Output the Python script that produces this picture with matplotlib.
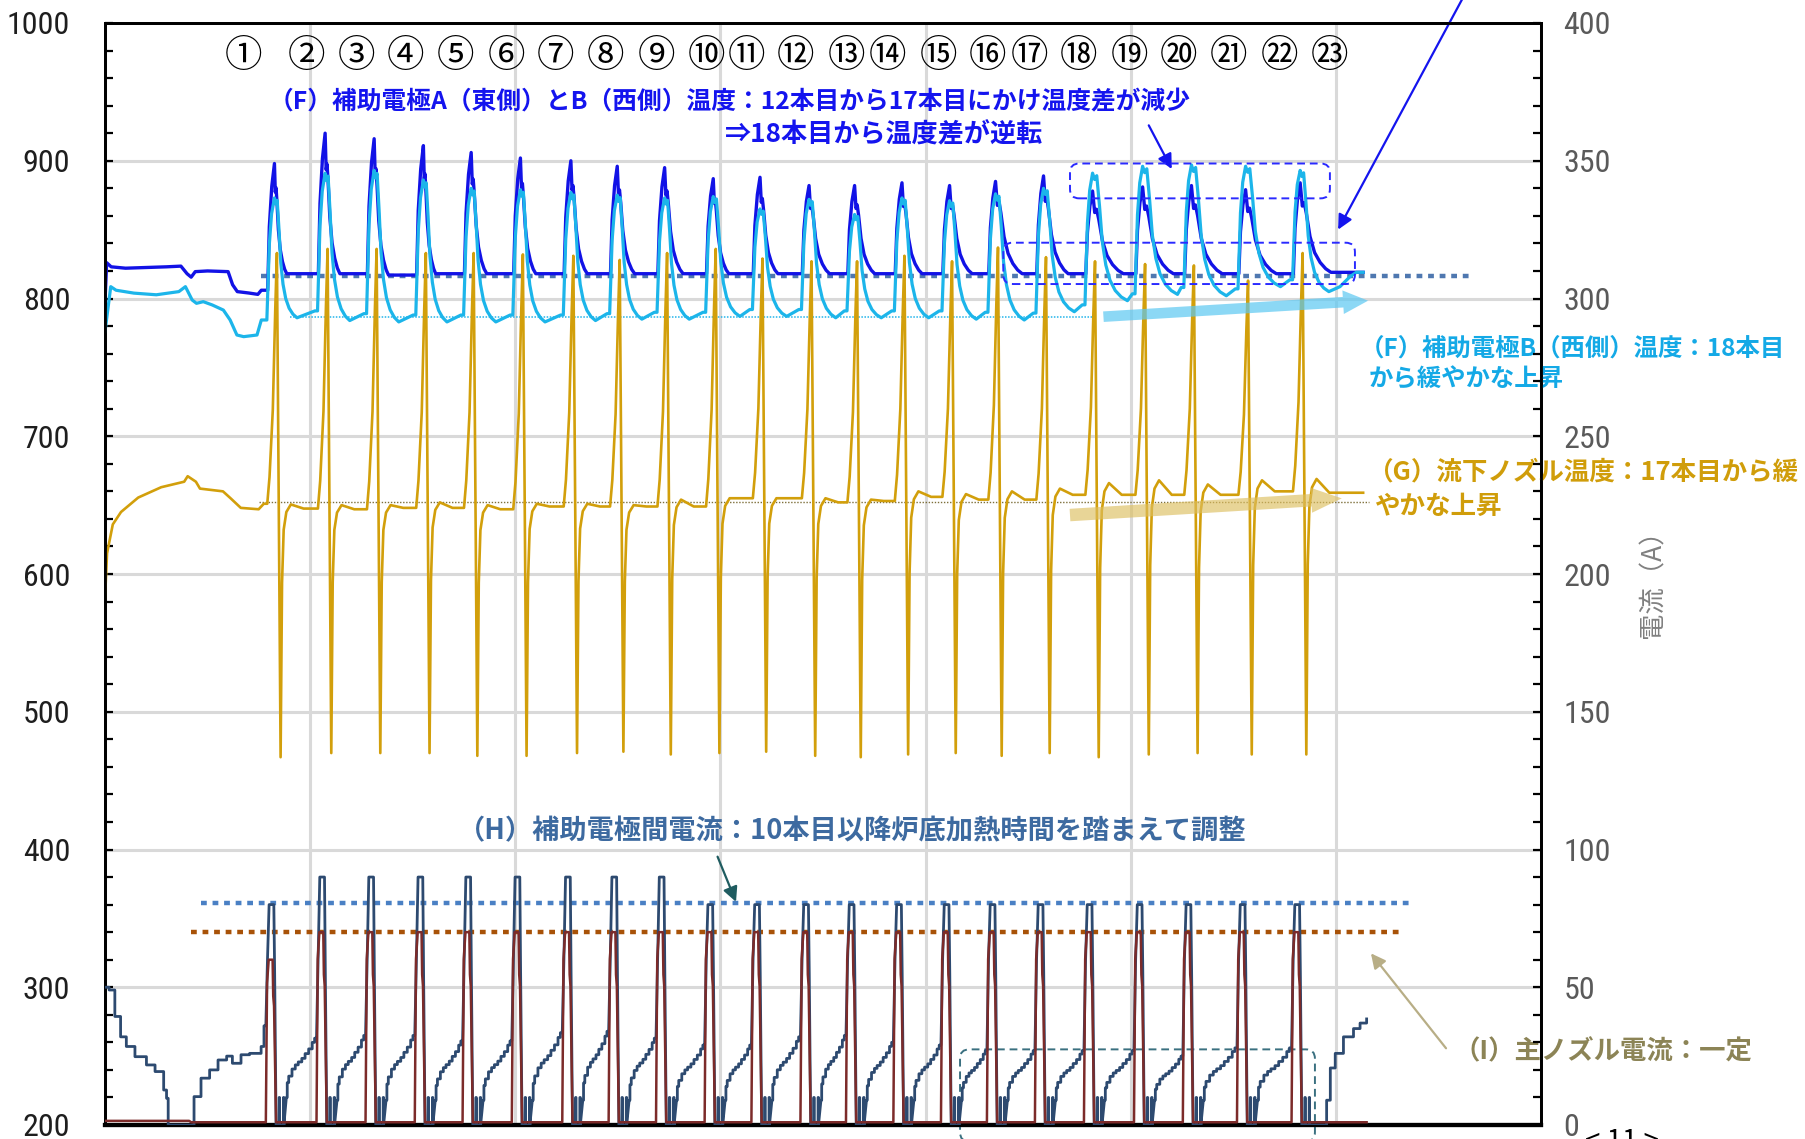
import matplotlib.pyplot as plt
import numpy as np
from matplotlib import font_manager as fm
from matplotlib.patches import FancyBboxPatch
from matplotlib.ticker import MultipleLocator

plt.rcParams['font.family'] = ['Noto Sans CJK JP', 'DejaVu Sans']
_names = {f.name for f in fm.fontManager.ttflist}
if 'Liberation Sans Narrow' in _names:
    NUM_FONT, NUM_SIZE = 'Liberation Sans Narrow', 25
elif 'Roboto Condensed' in _names:
    NUM_FONT, NUM_SIZE = 'Roboto Condensed', 23
else:
    NUM_FONT, NUM_SIZE = 'Liberation Sans', 21

# ---------------- data ----------------
# x: elapsed time, one vertical grid step = 1
# time of the nozzle-temperature spike of each of the 22 pours
t_cyc = [0.838, 1.085, 1.324, 1.564, 1.797, 2.037, 2.283, 2.509, 2.740, 2.977, 3.205,
         3.444, 3.666, 3.897, 4.129, 4.353, 4.587, 4.826, 5.070, 5.308, 5.572, 5.838]

# (F) auxiliary electrode A (east) temperature
a_peak = [898, 920, 916, 911, 906, 902, 900, 896, 895, 887, 888,
          882, 882, 884, 882, 885, 889, 878, 881, 882, 879, 884]
a_base = [818, 818, 817, 818, 818, 818, 818, 818, 818, 818, 818,
          818, 818, 818, 818, 818, 818, 818, 818, 818, 818, 819]
a_fall = [0.06, 0.072, 0.07, 0.06, 0.076, 0.075, 0.08, 0.085, 0.09, 0.076, 0.087,
          0.10, 0.098, 0.098, 0.11, 0.13, 0.12, 0.15, 0.15, 0.15, 0.15, 0.15]
a0_x = [0.0, 0.008, 0.03, 0.1, 0.2, 0.3, 0.37, 0.40, 0.42, 0.44, 0.5, 0.6, 0.622, 0.645, 0.70, 0.745, 0.762]
a0_y = [798, 826, 823, 822, 822.5, 823, 823.5, 818, 815.5, 819.5, 820, 819.5, 810, 805, 804, 803, 806]
a_end_x = [6.05, 6.133]
a_end_y = [819, 819]

# (F) auxiliary electrode B (west) temperature
b_peak = [873, 891, 893, 886, 880, 879, 877, 875, 873, 874, 865,
          872, 861, 873, 871, 876, 880, 891, 896, 897, 896, 893]
b_low = [786, 784, 783, 783, 783, 783, 784, 785, 785, 787, 787,
         786, 786, 786, 785, 784.4, 790.4, 798.4, 803, 802, 808.6, 805]
b_fall = [0.11, 0.12, 0.12, 0.115, 0.12, 0.12, 0.12, 0.12, 0.12, 0.13, 0.13,
          0.13, 0.13, 0.13, 0.13, 0.14, 0.15, 0.17, 0.17, 0.17, 0.17, 0.14]
b0_x = [0.0, 0.028, 0.054, 0.141, 0.25, 0.36, 0.392, 0.425, 0.446, 0.479, 0.523, 0.577,
        0.61, 0.643, 0.676, 0.741, 0.762]
b0_y = [776, 808.6, 806, 803.9, 802.7, 805, 808.6, 798.9, 796.5, 797.7, 795.3, 791.6,
        784.4, 773.5, 772.3, 773.5, 784.4]
b_end_x = [6.02, 6.07, 6.10, 6.133]
b_end_y = [808.6, 816, 819, 819]

# (G) flow-down nozzle temperature
g_top = [833, 836, 836, 833, 833, 832, 831, 828, 833, 836, 829,
         827, 827, 831, 827, 837, 830, 827, 825, 824, 813, 833]
g_min = [467, 470, 470, 470, 468, 468, 470, 471, 469, 470, 471,
         468, 467, 469, 470, 468, 470, 467, 469, 470, 469, 469]
g_bump = [650.5, 650, 650, 652, 650, 651, 651, 650, 654, 655, 655,
          655, 654, 660, 658, 660, 662, 666, 668, 665, 668, 669]
g_flat = [647.5, 647, 648, 648, 647, 649, 649, 649, 649, 655, 655,
          652, 653, 656, 654, 654, 657.5, 657.5, 657.5, 657.5, 660, 659]
g0_x = [0.0, 0.010, 0.038, 0.078, 0.162, 0.274, 0.386, 0.403, 0.443, 0.463, 0.575, 0.612, 0.662, 0.749, 0.774]
g0_y = [582, 615, 636, 645, 655.5, 663, 667, 671, 667, 662, 660, 655, 648, 647, 651]
g_end_x = [6.133]
g_end_y = [659]

# (H) current between auxiliary electrodes [A]
h_top = [80, 90, 90, 90, 90, 90, 90, 90, 90, 80, 80,
         80, 80, 80, 80, 80, 80, 80, 80, 80, 80, 80]
h_end = [36, 31.5, 32.5, 32.5, 30.5, 30.5, 33.5, 34, 31.5, 29, 29,
         32, 32.5, 30, 29, 27, 27, 27, 27, 25, 28, 28]
h_start = [10, 9, 9, 9, 9, 9, 9, 9, 9, 9, 9,
           9, 9, 9, 9, 9, 9, 9, 9, 9, 9, 9]
h_spike = 10
h0_x = [0.0, 0.02, 0.048, 0.076, 0.104, 0.146, 0.202, 0.244, 0.286, 0.30, 0.308, 0.426, 0.434,
        0.468, 0.51, 0.551, 0.593, 0.621, 0.663, 0.705, 0.761, 0.775]
h0_y = [50, 49, 39.4, 32, 28.5, 24.8, 21.8, 19.4, 12.7, 9.7, 0, 0, 10.3,
        17, 20, 23.6, 25, 22.4, 25.5, 26, 28.5, 36]
h_end_x = [5.955, 5.955, 5.973, 5.997, 6.037, 6.086, 6.118, 6.15]
h_end_y = [0, 9, 20.7, 26, 32, 35, 37, 38.5]

# (I) main nozzle current [A]
i_top = [60, 70, 70, 70, 70, 70, 70, 70, 70, 70, 70,
         70, 70, 70, 70, 70, 70, 70, 70, 70, 70, 70]
i0_x = [0.0, 0.41, 0.42]
i0_y = [1.5, 1.5, 1.0]
i_idle = 1.0

# reference levels drawn on the chart
ref_a, ref_b, ref_g = 816.6, 786.5, 652
ref_h, ref_i = 80.5, 70

labels = ['①', '②', '③', '④', '⑤', '⑥', '⑦', '⑧', '⑨', '⑩', '⑪', '⑫',
          '⑬', '⑭', '⑮', '⑯', '⑰', '⑱', '⑲', '⑳', '㉑', '㉒', '㉓']
label_x = [0.675, 0.980, 1.224, 1.464, 1.710, 1.956, 2.195, 2.439, 2.686, 2.933, 3.129, 3.368,
           3.614, 3.814, 4.064, 4.304, 4.507, 4.746, 4.994, 5.235, 5.479, 5.723, 5.969]

# ---------------- waveform shapes ----------------
A_RISE = [(-0.045, 0.0), (-0.037, 0.5), (-0.025, 0.82)]
A_FALL = [(0, 1), (0.07, 0.74), (0.13, 0.78), (0.2, 0.66), (0.32, 0.4), (0.47, 0.22),
          (0.65, 0.11), (0.83, 0.04), (1, 0)]
B_RISE = [(-0.049, 0.0), (-0.037, 0.62), (-0.026, 0.87)]
B_FALL = [(0, 1), (0.06, 0.95), (0.12, 0.98), (0.2, 0.74), (0.28, 0.46), (0.38, 0.28),
          (0.5, 0.16), (0.65, 0.08), (0.82, 0.03), (1, 0)]
G_RISE = [(-0.047, 0.0), (-0.036, 0.107), (-0.020, 0.375), (-0.008, 0.777), (0.0, 1.0)]
G_BACK = [(0.025, 0.69), (0.033, 0.90), (0.046, 0.97)]
RAMP = [(0, 0), (0.03, 0.25), (0.08, 0.36), (0.19, 0.48), (0.3, 0.55), (0.4, 0.6),
        (0.52, 0.66), (0.63, 0.74), (0.75, 0.82), (0.87, 0.93), (0.95, 1.0)]


def to_steps(xs, ys):
    sx, sy = [xs[0]], [ys[0]]
    for x, y in zip(xs[1:], ys[1:]):
        sx += [x, x]
        sy += [sy[-1], y]
    return sx, sy


def stairs(xs, ys, x0, x1, v0, v1):
    for k, (u, f) in enumerate(RAMP):
        x = x0 + u * (x1 - x0)
        if k > 0:
            xs.append(x); ys.append(ys[-1])
        xs.append(x); ys.append(v0 + f * (v1 - v0))


n = len(t_cyc)

a_x, a_y = list(a0_x), list(a0_y)
for i, t in enumerate(t_cyc):
    pre = a_y[-1]
    for dt, f in A_RISE:
        a_x.append(t + dt); a_y.append(pre + f * (a_peak[i] - pre))
    tp = t - 0.012
    for u, f in A_FALL:
        a_x.append(tp + u * a_fall[i]); a_y.append(a_base[i] + f * (a_peak[i] - a_base[i]))
a_x += a_end_x; a_y += a_end_y

b_x, b_y = list(b0_x), list(b0_y)
for i, t in enumerate(t_cyc):
    pre = b_y[-1]
    for dt, f in B_RISE:
        b_x.append(t + dt); b_y.append(pre + f * (b_peak[i] - pre))
    tp = t - 0.012
    for u, f in B_FALL:
        b_x.append(tp + u * b_fall[i]); b_y.append(b_low[i] + f * (b_peak[i] - b_low[i]))
    if i + 1 < n:
        b_x.append(t_cyc[i + 1] - 0.062); b_y.append(b_low[i] + 5)
b_x += b_end_x; b_y += b_end_y

g_x, g_y = list(g0_x), list(g0_y)
for i, t in enumerate(t_cyc):
    pre = g_y[-1]
    for dt, f in G_RISE:
        g_x.append(t + dt); g_y.append(pre + f * (g_top[i] - pre))
    g_x.append(t + 0.018); g_y.append(g_min[i])
    for dt, f in G_BACK:
        g_x.append(t + dt); g_y.append(g_min[i] + f * (g_bump[i] - g_min[i]))
    g_x += [t + 0.068, t + 0.13]
    g_y += [g_bump[i], g_flat[i]]
g_x += g_end_x; g_y += g_end_y

h_x, h_y = to_steps(h0_x, h0_y)
for i, t in enumerate(t_cyc):
    c = t - 0.026
    h_x += [c - 0.028, c - 0.02, c - 0.012, c + 0.011, c + 0.015, c + 0.022]
    h_y += [h_end[i], 60, h_top[i], h_top[i], 55, 0]
    for s in (0.037, 0.058):
        h_x += [c + s, c + s, c + s + 0.002, c + s + 0.002]
        h_y += [0, h_spike, h_spike, 0]
    if i + 1 < n:
        stairs(h_x, h_y, c + 0.072, t_cyc[i + 1] - 0.026 - 0.03, h_start[i], h_end[i + 1])
tx, ty = to_steps(h_end_x, h_end_y)
h_x += tx; h_y += ty

i_x, i_y = list(i0_x), list(i0_y)
for i, t in enumerate(t_cyc):
    c = t - 0.026
    top = i_top[i]
    i_x += [c - 0.028, c - 0.022, c - 0.014, c + 0.005, c + 0.008, c + 0.012, c + 0.022]
    i_y += [i_idle, 0.86 * top, top, top, 0.78 * top, 0.72 * top, i_idle]
i_x.append(6.15); i_y.append(i_idle)

# ---------------- figure ----------------
W, H = 1806, 1139
fig = plt.figure(figsize=(W / 100, H / 100), dpi=100)
ax = fig.add_axes([105 / W, 14 / H, 1436 / W, 1102 / H])
ax2 = ax.twinx()

ax.set_xlim(0, 7)
ax.set_ylim(200, 1000)
ax2.set_ylim(0, 400)
ax.set_xticks(range(8))
ax.tick_params(axis='x', length=0, labelbottom=False)
ax.set_yticks(range(200, 1001, 100))
ax.yaxis.set_minor_locator(MultipleLocator(20))
ax2.set_yticks(range(0, 401, 50))
ax2.yaxis.set_minor_locator(MultipleLocator(10))
ax.grid(True, which='major', color='#d9d9d9', lw=2.2)
ax.set_axisbelow(True)

ax.tick_params(axis='y', which='both', direction='in', length=6, width=1.6,
               pad=25, labelsize=NUM_SIZE, labelcolor='#1e1e1e')
ax2.tick_params(axis='y', which='both', direction='in', length=6, width=1.6,
                pad=16, labelsize=NUM_SIZE, labelcolor='#5a5a5a')
for lbl in ax.get_yticklabels() + ax2.get_yticklabels():
    lbl.set_fontfamily(NUM_FONT)

for a in (ax, ax2):
    for s in a.spines.values():
        s.set_color('black')
        s.set_linewidth(2)
    a.spines['bottom'].set_linewidth(3)

# reference dotted lines
ax.plot([0.76, 6.66], [ref_a, ref_a], color='#4f78b0', lw=3.2, ls=(0, (1.3, 1.3)), zorder=2)
ax.plot([0.90, 4.83], [ref_b, ref_b], color='#22b4ea', lw=1.1, ls=(0, (1, 1)), zorder=2)
ax.plot([0.75, 6.16], [ref_g, ref_g], color='#7d6f3a', lw=1.0, ls=(0, (1, 1.2)), zorder=2)
ax2.plot([0.47, 6.37], [ref_h, ref_h], color='#4a80c4', lw=3.2, ls=(0, (1.3, 1.3)), zorder=2)
ax2.plot([0.42, 6.32], [ref_i, ref_i], color='#a85208', lw=3.2, ls=(0, (1.3, 1.3)), zorder=2)

# series
ax.plot(a_x, a_y, color='#1212e6', lw=2.4, zorder=3)
ax.plot(b_x, b_y, color='#1cb5ea', lw=2.3, zorder=4)
ax.plot(g_x, g_y, color='#d29f0b', lw=1.9, zorder=5)
ax2.plot(h_x, h_y, color='#2d4a70', lw=2.0, zorder=3)
ax2.plot(i_x, i_y, color='#7c2b2a', lw=1.8, zorder=4)

# circled pour numbers
for lab, x in zip(labels, label_x):
    ax.text(x, 976, lab, ha='center', va='center', fontsize=27,
            family=['Noto Sans CJK JP', 'DejaVu Sans'], color='black')

jp = dict(family=['Noto Sans CJK JP', 'DejaVu Sans'], weight='bold', va='center', ha='left',
          clip_on=False)
blue = '#1414ee'
ax.text(0.80, 943, '（F）補助電極A（東側）とB（西側）温度：12本目から17本目にかけ温度差が減少',
        color=blue, fontsize=17.8, **jp)
ax.text(3.02, 919, '⇒18本目から温度差が逆転', color=blue, fontsize=18.8, **jp)
ax.text(6.115, 764, '（F）補助電極B（西側）温度：18本目', color='#14a9e6', fontsize=17.6, **jp)
ax.text(6.158, 741, 'から緩やかな上昇', color='#14a9e6', fontsize=17.6, **jp)
ax.text(6.15, 674, '（G）流下ノズル温度：17本目から緩', color='#d09d0a', fontsize=18.4, **jp)
ax.text(6.187, 649, 'やかな上昇', color='#d09d0a', fontsize=18.4, **jp)
ax.text(1.72, 413, '（H）補助電極間電流：10本目以降炉底加熱時間を踏まえて調整',
        color='#3d6aa0', fontsize=19.6, **jp)
ax.text(6.575, 253, '（I）主ノズル電流：一定', color='#8c8456', fontsize=19, **jp)
ax.text(7.546, 598, '電流（A）', rotation=90, ha='center', va='center', fontsize=19,
        color='#808080', family=['Noto Sans CJK JP', 'DejaVu Sans'], clip_on=False)

# arrows
def arrow(x0, y0, x1, y1, color, lw=1.6, ms=22):
    ax.annotate('', xy=(x1, y1), xytext=(x0, y0), annotation_clip=False,
                arrowprops=dict(arrowstyle='-|>', color=color, lw=lw, mutation_scale=ms,
                                shrinkA=0, shrinkB=0), zorder=6)

arrow(5.088, 925.7, 5.20, 894, blue)
arrow(6.64, 1024, 6.011, 850, blue)
arrow(2.986, 394.8, 3.076, 362, '#1f5c60')
arrow(6.537, 255.7, 6.171, 324.6, '#b8ae86')

fat = 'simple,head_length=0.9,head_width=0.85,tail_width=0.38'
ax.annotate('', xy=(6.157, 798.4), xytext=(4.867, 786.8), annotation_clip=False,
            arrowprops=dict(arrowstyle=fat, mutation_scale=20, color='#5cc8f2', alpha=0.7,
                            lw=0, shrinkA=0, shrinkB=0), zorder=6)
ax.annotate('', xy=(6.029, 654.9), xytext=(4.704, 642.8), annotation_clip=False,
            arrowprops=dict(arrowstyle='simple,head_length=1.1,head_width=0.9,tail_width=0.45',
                            mutation_scale=20, color='#ddbf60', alpha=0.65, lw=0,
                            shrinkA=0, shrinkB=0), zorder=6)

# dashed rounded boxes
aspect = (1 / 1.3775) / (1 / 205.14)


def dbox(x0, y0, x1, y1, color, clip=True):
    p = FancyBboxPatch((x0, y0), x1 - x0, y1 - y0, boxstyle='round,pad=0,rounding_size=0.045',
                       mutation_aspect=aspect, fill=False, ec=color, lw=1.4, ls=(0, (4, 2.5)),
                       zorder=6, clip_on=clip)
    ax.add_patch(p)


dbox(4.704, 872.7, 5.971, 898, '#2a2aff')
dbox(4.379, 810.5, 6.093, 840.5, '#2a2aff')
dbox(4.168, 188, 5.898, 254.9, '#3a7080', clip=False)

fig.text(1622 / W, -3 / H, '< 11 >', ha='center', va='center', fontsize=20, color='black')

fig.savefig('out.png', dpi=100)
